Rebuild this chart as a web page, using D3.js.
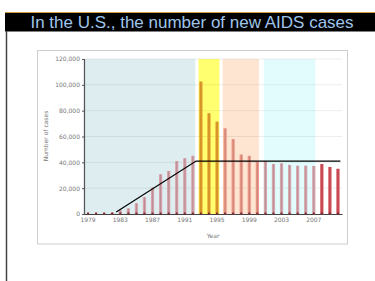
<!DOCTYPE html>
<html><head><meta charset="utf-8">
<script src="https://cdn.jsdelivr.net/npm/d3@7"></script>
<style>html,body{margin:0;padding:0;background:#fff;}svg{display:block;}</style>
</head><body>
<svg id="c" width="375" height="281"></svg>
<script>
const title = "In the U.S., the number of new AIDS cases";
const years = d3.range(1979, 2011);
const cases = [0, 100, 400, 1000, 2800, 4400, 8300, 13000, 20500, 30700, 33300, 41000, 43200, 45000,
  102500, 78000, 71500, 66300, 58000, 46000, 45000, 40500, 41000, 38700, 39200, 38000, 37400, 37400,
  37200, 38700, 36400, 35000];
const yTicks = [0, 20000, 40000, 60000, 80000, 100000, 120000];
const xTickYears = [1979, 1983, 1987, 1991, 1995, 1999, 2003, 2007];
const periods = [
  {from: 1978.45, to: 1992.3, fill: "#ddedf0", bar: "#d8a3ab"},
  {from: 1992.7, to: 1995.3, fill: "#ffff70", bar: "#e6a02e"},
  {from: 1995.7, to: 2000.2, fill: "#fde5d2", bar: "#ec9988"},
  {from: 2000.8, to: 2007.2, fill: "#e2fcfd", bar: "#d8a6ae"},
  {from: 2007.5, to: 2010.5, fill: "none", bar: "#d64f5a"}
];
const trendYears = [1982.5, 1992.4, 2010.3];
const trendValues = [1500, 41000, 41000];

const svg = d3.select("#c");
// header
svg.append("rect").attr("x", 5).attr("y", 12).attr("width", 370).attr("height", 1).attr("fill", "#d4a048");
svg.append("rect").attr("x", 5).attr("y", 13).attr("width", 370).attr("height", 18.5).attr("fill", "#000");
svg.append("text").attr("x", 192).attr("y", 28).attr("text-anchor", "middle")
  .attr("font-family", "Liberation Sans, Arial, sans-serif").attr("font-size", 17).attr("fill", "#9fc5ea").text(title);
svg.append("line").attr("x1", 6.5).attr("x2", 6.5).attr("y1", 31).attr("y2", 281).attr("stroke", "#444").attr("stroke-width", 1.5);

// panel
svg.append("rect").attr("x", 37.5).attr("y", 50.5).attr("width", 310).attr("height", 193.5)
  .attr("fill", "#fff").attr("stroke", "#cfcfcf");

const x0 = 84, x1 = 342, yb = 214, yt = 59;
const x = d3.scaleBand().domain(years).range([x0, x1]).paddingInner(0.6).paddingOuter(0.3);
const xl = d3.scaleLinear().domain([1978.5, 2010.5]).range([x0, x1]);
const y = d3.scaleLinear().domain([0, 120000]).range([yb, yt]);

const g = svg.append("g");
// bands
g.selectAll("rect.band").data(periods.filter(p => p.fill !== "none")).join("rect")
  .attr("x", d => xl(d.from)).attr("width", d => xl(d.to) - xl(d.from))
  .attr("y", yt).attr("height", yb - yt).attr("fill", d => d.fill);
// grid
g.selectAll("line.grid").data(yTicks.slice(1)).join("line")
  .attr("x1", x0).attr("x2", x1).attr("y1", d => y(d)).attr("y2", d => y(d))
  .attr("stroke", "#000").attr("stroke-opacity", 0.07);

const colorFor = yr => periods.find(p => yr >= p.from && yr <= p.to + 0.3).bar;
// bars
g.selectAll("rect.bar").data(years).join("rect")
  .attr("x", d => x(d)).attr("width", x.bandwidth())
  .attr("y", (d, i) => y(cases[i])).attr("height", (d, i) => yb - y(cases[i]))
  .attr("fill", d => colorFor(d));
g.selectAll("rect.core").data(years).join("rect")
  .attr("x", d => x(d) + x.bandwidth() / 2 - 0.5).attr("width", 1)
  .attr("y", (d, i) => y(cases[i])).attr("height", (d, i) => yb - y(cases[i]))
  .attr("fill", d => colorFor(d)).attr("opacity", 0.9)
  .style("filter", "brightness(0.85)");

// axes
const yAxis = d3.axisLeft(y).tickValues(yTicks).tickSize(2).tickFormat(d3.format(","));
const ya = svg.append("g").attr("transform", `translate(${x0},0)`).call(yAxis);
ya.select(".domain").attr("stroke", "#555").attr("stroke-width", 1.2);
ya.selectAll(".tick line").attr("stroke", "#555");
ya.selectAll("text").attr("font-family", "DejaVu Sans, sans-serif").attr("font-size", 6).attr("fill", "#777").attr("x", -4);

const xAxis = d3.axisBottom(x).tickValues(years).tickSize(0).tickFormat(d => xTickYears.includes(d) ? d : "");
const xa = svg.append("g").attr("transform", `translate(0,${yb})`).call(xAxis);
xa.select(".domain").attr("stroke", "#444").attr("stroke-width", 1.2);
xa.selectAll("text").attr("font-family", "DejaVu Sans, sans-serif").attr("font-size", 6).attr("fill", "#777").attr("dy", "0.9em");
xa.selectAll(".tick").append("rect").attr("x", -1).attr("y", -1.5).attr("width", 2).attr("height", 2).attr("fill", "#7a2a30");

svg.append("text").attr("x", 213).attr("y", 238).attr("text-anchor", "middle")
  .attr("font-family", "DejaVu Sans, sans-serif").attr("font-size", 6).attr("fill", "#777").text("Year");
svg.append("text").attr("transform", "translate(48,136) rotate(-90)").attr("text-anchor", "middle")
  .attr("font-family", "DejaVu Sans, sans-serif").attr("font-size", 6).attr("fill", "#777").text("Number of cases");

// trend line
const line = d3.line().x(d => xl(d[0])).y(d => y(d[1]));
svg.append("path").datum(trendYears.map((yr, i) => [yr, trendValues[i]]))
  .attr("d", line).attr("fill", "none").attr("stroke", "#000").attr("stroke-width", 1.2);
</script>
</body></html>
